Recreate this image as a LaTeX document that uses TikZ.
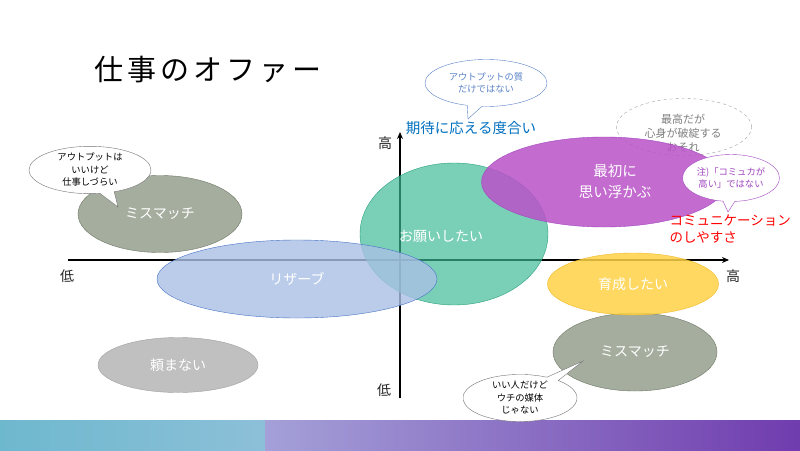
\documentclass[tikz,border=0pt]{standalone}
\usepackage{fontspec}
\setmainfont{Noto Sans CJK JP}
\usetikzlibrary{shapes.geometric,shapes.callouts,arrows.meta}
\definecolor{purp}{RGB}{186,82,200}
\definecolor{purpline}{RGB}{160,70,190}
\definecolor{teal1}{RGB}{60,186,148}
\definecolor{teal2}{RGB}{40,160,125}
\definecolor{rzfill}{RGB}{170,192,230}
\definecolor{rzline}{RGB}{68,114,196}
\definecolor{mmfill}{RGB}{164,173,158}
\definecolor{mmline}{RGB}{110,120,104}
\definecolor{grfill}{RGB}{192,192,192}
\definecolor{grline}{RGB}{160,160,160}
\definecolor{yfill}{RGB}{255,210,70}
\definecolor{yline}{RGB}{240,185,40}
\definecolor{bluetxt}{RGB}{0,112,192}
\definecolor{bubblue}{RGB}{90,130,200}
\definecolor{barA}{RGB}{110,184,206}
\definecolor{barB}{RGB}{140,192,216}
\definecolor{barC}{RGB}{164,160,216}
\definecolor{barD}{RGB}{112,60,174}
\tikzset{
  blob/.style={ellipse, inner sep=0pt, text opacity=1, text=white, align=center,
    font=\fontsize{14}{18}\selectfont},
  bubble/.style={ellipse callout, fill=white, inner sep=0pt, align=center,
    font=\fontsize{9.3}{12.5}\selectfont, callout pointer arc=14},
  axislbl/.style={font=\fontsize{14}{16}\selectfont, text=black!85},
  axisline/.style={line width=1.3pt, black}
}
\begin{document}
\begin{tikzpicture}[x=1pt,y=-1pt]
\useasboundingbox (0,0) rectangle (800,450);
\fill[white] (0,0) rectangle (800,450);
% title
\node (title) at (208,70) {\fontsize{29}{32}\selectfont\addfontfeature{LetterSpace=14}仕事のオファー};
% axes
\coordinate (xl) at (68,260);
\coordinate (xr) at (729,260);
\coordinate (yb) at (400,398);
\coordinate (yt) at (400,132);
\draw[axisline,-{Stealth[length=7pt,width=6pt]}] (xl) -- (xr);
\draw[axisline,-{Stealth[length=7pt,width=6pt]}] (yb) -- (yt);
\node[axislbl] (xlo) at (67,276) {低};
\node[axislbl] (xhi) at (733,276) {高};
\node[axislbl] (yhi) at (385,143) {高};
\node[axislbl] (ylo) at (384,390) {低};
% dashed gray
\node[ellipse, draw=grline, dashed, minimum width=135pt, minimum height=57pt, inner sep=0pt] (dash) at (684,127) {};
\node[font=\fontsize{11}{14}\selectfont, text=black!50, align=center] (dashtxt) at (683,133) {最高だが\\心身が破綻する\\おそれ};
% ellipses
\node[blob, fill=grfill, draw=grline, minimum width=160pt, minimum height=55pt] (tanomanai) at (178,365) {頼まない};
\node[blob, fill=mmfill, draw=mmline, minimum width=164pt, minimum height=77pt] (mm1) at (160,214) {ミスマッチ};
\node[blob, fill=mmfill, draw=mmline, minimum width=164pt, minimum height=78pt] (mm2) at (635,352) {ミスマッチ};
\node[blob, fill=teal1, fill opacity=0.68, draw=teal2, minimum width=188pt, minimum height=142pt] (onegai) at (454,234) {};
\node[text=white, font=\fontsize{14}{18}\selectfont] (onegaitxt) at (441,236) {お願いしたい};
\node[blob, fill=rzfill, fill opacity=0.8, draw=rzline, minimum width=280pt, minimum height=78pt] (reserve) at (297,279) {リザーブ};
\node[blob, fill=yfill, fill opacity=0.85, draw=yline, minimum width=171pt, minimum height=62pt] (ikusei) at (633,284) {育成したい};
\node[blob, fill=purp, fill opacity=0.85, draw=purpline, minimum width=245pt, minimum height=90pt] (saisho) at (604,182) {};
\node[text=white, font=\fontsize{14.5}{21}\selectfont, align=center] (saishotxt) at (615,181) {最初に\\思い浮かぶ};
% blue heading and callout
\node[text=bluetxt, font=\fontsize{14.5}{16}\selectfont] (kitai) at (471,128) {期待に応える度合い};
\coordinate (tipA) at (468,119);
\node[bubble, draw=bubblue, text=bubblue, minimum width=122pt, minimum height=47pt, callout absolute pointer={(tipA)}] (bA) at (486,83) {アウトプットの質\\だけではない};
% purple callout
\coordinate (tipB) at (728,212);
\node[bubble, draw=purpline, text=purpline, minimum width=97pt, minimum height=47pt, callout absolute pointer={(tipB)}] (bB) at (731,178) {注)「コミュカが\\高い」ではない};
\node[text=red, font=\fontsize{13.5}{17}\selectfont, align=left, anchor=west] (comm) at (666,229) {コミュニケーション\\のしやすさ};
% left callout
\coordinate (tipC) at (118,207);
\node[bubble, draw=black!55, text=black, minimum width=122pt, minimum height=46pt, callout absolute pointer={(tipC)}] (bC) at (90,170) {アウトプットは\\いいけど\\仕事しづらい};
% bottom bar
\shade[left color=barA, right color=barB] (0,420) rectangle (265,450);
\shade[left color=barC, right color=barD] (265,420) rectangle (800,450);
% bottom callout
\coordinate (tipD) at (583,361);
\node[bubble, draw=black!55, text=black, minimum width=114pt, minimum height=47pt, callout absolute pointer={(tipD)}] (bD) at (520,398) {いい人だけど\\ウチの媒体\\じゃない};
\end{tikzpicture}
\end{document}
